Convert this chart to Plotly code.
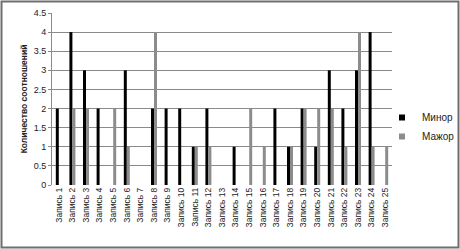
import plotly.graph_objects as go

categories = [f"Запись {i}" for i in range(1, 26)]
minor = [2, 4, 3, 2, 0, 3, 0, 2, 2, 2, 1, 2, 0, 1, 0, 0, 2, 1, 2, 1, 3, 2, 3, 4, 0]
major = [0, 2, 2, 0, 2, 1, 0, 4, 0, 0, 1, 1, 0, 0, 2, 1, 0, 1, 2, 2, 2, 1, 4, 1, 1]
series_names = ["Минор", "Мажор"]
series_colors = ["#000000", "#8c8c8c"]

font = "Liberation Sans"
fig = go.Figure()
for name, vals, col in zip(series_names, [minor, major], series_colors):
    fig.add_bar(x=categories, y=vals, name=name, showlegend=False,
                marker=dict(color=col, line=dict(width=0)))
# legend entries with small square keys
for name, col in zip(series_names, series_colors):
    fig.add_scatter(x=[None], y=[None], mode="markers", name=name,
                    marker=dict(symbol="square", size=6, color=col))

L, R, T, B = 52, 0, 13, 64
W, H = 460, 249
plot_right = 392
pw, ph = W - L - R, H - T - B

def px(x):
    return (x - L) / pw

def py(y):
    return (H - B - y) / ph

fig.add_shape(type="rect", xref="paper", yref="paper",
              x0=px(1.5), x1=px(458.5), y0=py(247.5), y1=py(1.5),
              line=dict(color="#6e6e6e", width=2), layer="below")

fig.update_layout(
    width=W, height=H,
    margin=dict(l=L, r=R, t=T, b=B, autoexpand=False),
    paper_bgcolor="white", plot_bgcolor="white",
    barmode="group", bargap=0.56, bargroupgap=0,
    font=dict(family=font, size=9, color="#222222"),
    showlegend=True,
    legend=dict(x=px(382), y=py(103), xanchor="left", yanchor="top",
                font=dict(size=10, color="#222222"), itemwidth=30,
                tracegroupgap=4, bgcolor="rgba(0,0,0,0)"),
    xaxis=dict(domain=[0, px(plot_right)], tickangle=-90, tickfont=dict(size=8.5),
               showgrid=False, showline=False, ticks="", automargin=False),
    yaxis=dict(range=[0, 4.5], dtick=0.5, showgrid=True, gridcolor="#8a8a8a",
               gridwidth=1, showline=True, linecolor="#8a8a8a", ticks="outside",
               ticklen=3, tickcolor="#8a8a8a", tickfont=dict(size=9), automargin=False,
               title=dict(text="<b>Количество соотношений</b>", font=dict(size=8.5), standoff=4),
               zeroline=False),
)
fig.write_html("out.html", config={"displayModeBar": False},
               post_script="document.body.style.margin='0';document.body.style.overflow='hidden';")
